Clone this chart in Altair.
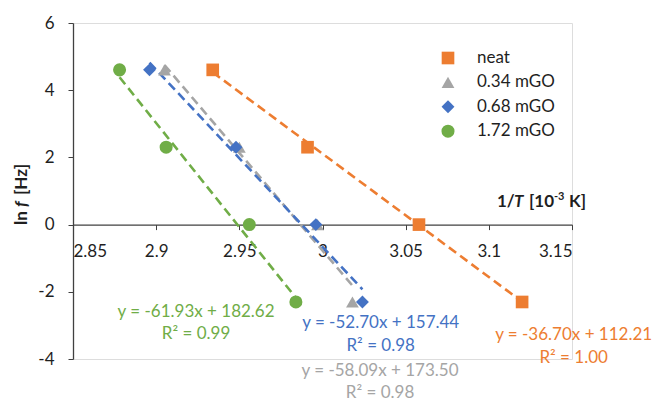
import altair as alt
import pandas as pd

# ---- data ----
series_names = ["neat", "0.34 mGO", "0.68 mGO", "1.72 mGO"]
colors = ["#ED7D31", "#A5A5A5", "#4472C4", "#70AD47"]
shapes = ["square", "triangle-up", "diamond", "circle"]
marker_sizes = [160, 170, 230, 150]

ln_f = [4.605, 2.303, 0.0, -2.303]
x_neat = [2.934, 2.991, 3.058, 3.120]
x_034 = [2.905, 2.950, 2.997, 3.018]
x_068 = [2.896, 2.948, 2.996, 3.024]
x_172 = [2.878, 2.906, 2.956, 2.984]

slopes = [-36.70, -58.09, -52.70, -61.93]
intercepts = [112.21, 173.50, 157.44, 182.62]
eq_texts = ["y = -36.70x + 112.21", "y = -58.09x + 173.50",
            "y = -52.70x + 157.44", "y = -61.93x + 182.62"]
r2_texts = ["R² = 1.00", "R² = 0.98", "R² = 0.98", "R² = 0.99"]
# label anchor positions in data units (x, y of equation; y of R²)
eq_x = [3.151, 3.0346, 3.035, 2.924]
eq_y = [-3.30, -4.35, -2.92, -2.59]
r2_y = [-3.96, -5.00, -3.60, -3.27]

FONT = "Lato"
TXT = "#1f1f1f"
# legend placement (pixels inside the plot area)
LEG_SYM_X, LEG_TXT_X, LEG_Y0, LEG_DY = 375, 404, 35, 24.4

xs = [x_neat, x_034, x_068, x_172]
pts = pd.DataFrame([
    {"series": s, "x": x, "y": y, "order": i * 10 + j}
    for i, (s, xv) in enumerate(zip(series_names, xs))
    for j, (x, y) in enumerate(zip(xv, ln_f))
])

trend_rows = []
for s, xv, m, b in zip(series_names, xs, slopes, intercepts):
    for x in (min(xv), max(xv)):
        trend_rows.append({"series": s, "x": x, "m": m, "b": b})
trend = pd.DataFrame(trend_rows)

labels = pd.DataFrame({"series": series_names, "x": eq_x, "eq_y": eq_y,
                       "r2_y": r2_y, "eq": eq_texts, "r2": r2_texts})
leg = pd.DataFrame({"series": series_names, "row": list(range(len(series_names)))})

xscale = alt.Scale(domain=[2.85, 3.15], nice=False, zero=False)
yscale = alt.Scale(domain=[-4, 6], nice=False, zero=False)
cscale = alt.Scale(domain=series_names, range=colors)
sscale = alt.Scale(domain=series_names, range=shapes)
zscale = alt.Scale(domain=series_names, range=marker_sizes)

hyphen = "replace(datum.label, '\u2212', '-')"
xaxis = alt.Axis(values=[2.85, 2.9, 2.95, 3.0, 3.05, 3.1, 3.15], format=".2~f",
                 offset=-134.4, tickSize=5, labelPadding=14, grid=False, title=None,
                 domainColor="#404040", tickColor="#404040", domainWidth=1.3,
                 labelFont=FONT, labelFontSize=17, labelColor=TXT)
yaxis = alt.Axis(values=[-4, -2, 0, 2, 4, 6], tickSize=5, labelPadding=14, grid=False,
                 title=None, domainColor="#404040", tickColor="#404040", domainWidth=1.3,
                 labelExpr=hyphen,
                 labelFont=FONT, labelFontSize=17, labelColor=TXT)

lines = alt.Chart(trend).transform_calculate(
    yfit="datum.m * datum.x + datum.b"
).mark_line(strokeDash=[9, 5], strokeWidth=2.6).encode(
    x=alt.X("x:Q", scale=xscale, axis=xaxis),
    y=alt.Y("yfit:Q", scale=yscale, axis=yaxis),
    color=alt.Color("series:N", scale=cscale, legend=None),
    detail="series:N",
)

points = alt.Chart(pts).mark_point(filled=True, opacity=1).encode(
    x=alt.X("x:Q", scale=xscale),
    y=alt.Y("y:Q", scale=yscale),
    color=alt.Color("series:N", scale=cscale, legend=None),
    shape=alt.Shape("series:N", scale=sscale, legend=None),
    size=alt.Size("series:N", scale=zscale, legend=None),
    order="order:Q",
)

eq_layer = alt.Chart(labels).mark_text(font=FONT, fontSize=17, align="center",
                                        baseline="middle").encode(
    x=alt.X("x:Q", scale=xscale), y=alt.Y("eq_y:Q", scale=yscale),
    text="eq:N", color=alt.Color("series:N", scale=cscale, legend=None))
r2_layer = alt.Chart(labels).mark_text(font=FONT, fontSize=17, align="center",
                                        baseline="middle").encode(
    x=alt.X("x:Q", scale=xscale), y=alt.Y("r2_y:Q", scale=yscale),
    text="r2:N", color=alt.Color("series:N", scale=cscale, legend=None))

# manual legend
leg_base = alt.Chart(leg).transform_calculate(py=f"{LEG_Y0} + {LEG_DY} * datum.row")
leg_sym = leg_base.mark_point(filled=True, opacity=1).encode(
    x=alt.value(LEG_SYM_X), y=alt.Y("py:Q", scale=None),
    color=alt.Color("series:N", scale=cscale, legend=None),
    shape=alt.Shape("series:N", scale=sscale, legend=None),
    size=alt.Size("series:N", scale=zscale, legend=None))
leg_txt = leg_base.mark_text(font=FONT, fontSize=17, align="left", baseline="middle",
                             color=TXT).encode(
    x=alt.value(LEG_TXT_X), y=alt.Y("py:Q", scale=None), text="series:N")

# axis titles (pieces so that italic letters and superscript can be mixed)
one = pd.DataFrame({"d": [0]})
def piece(txt, x, y, **kw):
    base = dict(font=FONT, fontSize=17, fontWeight="bold", color=TXT, align="left",
                baseline="alphabetic", text=txt)
    base.update(kw)
    return alt.Chart(one).mark_text(**base).encode(x=alt.value(x), y=alt.value(y))

xt = [
    piece("1/", 424, 184),
    piece("T", 441, 184, fontStyle="italic"),
    piece("[10", 456, 184),
    piece("-3", 481, 177, fontSize=11),
    piece("K]", 496, 184),
]
yt = [
    piece("ln", -46, 202, angle=270),
    piece("f", -46, 184, angle=270, fontStyle="italic"),
    piece("[Hz]", -46, 172, angle=270),
]

chart = alt.layer(lines, points, eq_layer, r2_layer, leg_sym, leg_txt, *xt, *yt).properties(
    width=499, height=336,
    padding={"left": 73, "top": 23, "right": 81, "bottom": 42},
    autosize=alt.AutoSizeParams(type="none"),
).configure_view(stroke=None).configure(background="white")

chart.save("out.html", embed_options={"renderer": "svg", "actions": False})
